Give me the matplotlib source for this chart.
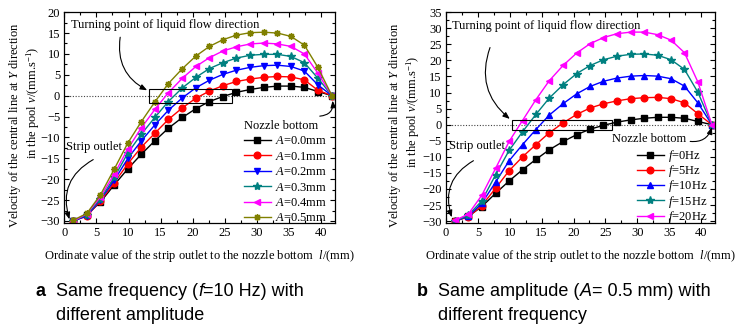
import numpy as np
import matplotlib
matplotlib.use("Agg")
import matplotlib.pyplot as plt
from matplotlib.patches import Rectangle

plt.rcParams['font.family'] = 'Liberation Serif'
plt.rcParams['font.size'] = 9
plt.rcParams['mathtext.fontset'] = 'custom'
plt.rcParams['mathtext.rm'] = 'Liberation Serif'
plt.rcParams['mathtext.it'] = 'Liberation Serif:italic'

#---------------------------------------------------- data
pos_l = [1.4, 3.5, 5.6, 7.8, 9.9, 12.0, 14.1, 16.2, 18.4, 20.5,
         22.6, 24.7, 26.8, 29.0, 31.1, 33.2, 35.3, 37.4, 39.5, 41.7]

# panel a : f = 10 Hz, different amplitude
amp_labels = ["$A$=0.0mm", "$A$=0.1mm", "$A$=0.2mm", "$A$=0.3mm", "$A$=0.4mm", "$A$=0.5mm"]
v_a00 = [-30.0, -28.5, -25.5, -21.3, -17.5, -14.0, -10.8, -7.8, -5.2, -3.1,
         -1.4, -0.2, 0.8, 1.5, 2.0, 2.3, 2.3, 2.0, 1.0, 0.0]
v_a01 = [-30.0, -28.8, -25.3, -20.8, -16.3, -12.3, -9.0, -5.7, -2.9, -0.6,
         1.1, 2.4, 3.4, 4.0, 4.4, 4.6, 4.5, 3.8, 1.3, 0.0]
v_a02 = [-30.0, -28.8, -25.0, -20.2, -15.0, -10.8, -7.0, -3.5, -0.5, 1.9,
         3.7, 5.1, 6.1, 6.8, 7.2, 7.3, 7.0, 5.9, 2.6, 0.0]
v_a03 = [-30.0, -28.5, -24.8, -19.5, -13.7, -9.2, -5.2, -1.4, 1.9, 4.4,
         6.5, 7.9, 9.0, 9.7, 9.9, 9.9, 9.4, 7.9, 4.2, 0.0]
v_a04 = [-30.0, -28.3, -24.3, -18.7, -12.7, -7.7, -3.3, 0.7, 4.2, 7.0,
         9.1, 10.7, 11.7, 12.4, 12.6, 12.4, 11.8, 10.0, 5.4, 0.0]
v_a05 = [-29.8, -28.2, -23.8, -17.5, -11.3, -6.2, -1.5, 2.9, 6.5, 9.5,
         11.8, 13.4, 14.5, 15.1, 15.2, 15.0, 14.2, 12.1, 6.8, 0.0]

# panel b : A = 0.5 mm, different frequency
freq_labels = ["$f$=0Hz", "$f$=5Hz", "$f$=10Hz", "$f$=15Hz", "$f$=20Hz"]
v_f00 = v_a00
v_f05 = [-30.0, -28.7, -25.2, -19.7, -14.3, -10.0, -6.2, -2.5, 0.6, 3.2,
         5.2, 6.5, 7.4, 8.1, 8.4, 8.5, 8.1, 6.8, 3.4, 0.0]
v_f10 = [-30.0, -28.5, -24.5, -17.8, -11.2, -6.2, -1.5, 3.0, 6.6, 9.6,
         11.9, 13.5, 14.5, 15.1, 15.3, 15.1, 14.3, 12.0, 6.8, 0.0]
v_f15 = [-30.0, -28.2, -23.7, -15.5, -8.0, -2.2, 3.2, 8.3, 12.5, 15.9,
         18.4, 20.2, 21.3, 21.9, 22.0, 21.6, 20.2, 17.2, 10.1, 0.0]
v_f20 = [-29.8, -27.8, -22.0, -13.5, -5.2, 1.3, 7.8, 13.7, 18.5, 22.3,
         25.2, 27.1, 28.3, 28.8, 28.8, 28.0, 26.3, 22.4, 13.3, 0.0]

#---------------------------------------------------- styles
col_a = ["black", "#ff0000", "#0000ff", "#008080", "#ff00ff", "#808000"]
mk_a = ["s", "o", "v", "*", "<", (8, 2, 0)]
col_b = ["black", "#ff0000", "#0000ff", "#008080", "#ff00ff"]
mk_b = ["s", "o", "^", "*", "<"]

xlab = "Ordinate value of the strip outlet to the nozzle bottom  $l$/(mm)"
ylab1 = "Velocity of the central line at $Y$ direction"
ylab2 = "in the pool $v$/(mm.s$^{-1}$)"
FS = 9


def frame(ax, ymin, ymax, x1, x2, y2):
  ax.set_xlim(0, 42.2)
  ax.set_ylim(ymin, ymax)
  ax.set_xticks(np.arange(0, 41, 5))
  ax.set_yticks(np.arange(-30, ymax + 0.1, 5))
  ax.set_xticks(np.arange(2.5, 42, 5), minor=True)
  ax.set_yticks(np.arange(-27.5, ymax, 5), minor=True)
  ax.tick_params(which='both', direction='in', top=True, right=True, labelsize=FS, width=0.8, pad=3)
  ax.tick_params(which='major', length=3.5)
  ax.tick_params(which='minor', length=2)
  for s in ax.spines.values():
    s.set_linewidth(0.9)
  ax.axhline(0, color="#444444", lw=0.8, ls=(0, (1, 1.5)), zorder=1)
  ax.set_xlabel(xlab, fontsize=FS, labelpad=6)
  # two-line y label, each line placed on its own
  ax.text(x1, 0.465, ylab1, transform=ax.transAxes, rotation=90, ha='right', va='center', fontsize=FS)
  ax.text(x2, y2, ylab2, transform=ax.transAxes, rotation=90, ha='right', va='center', fontsize=FS)


def arrow(ax, start, end, rad):
  ax.annotate("", xy=end, xytext=start,
              arrowprops=dict(arrowstyle="-|>,head_length=0.45,head_width=0.18",
                              connectionstyle="arc3,rad=%g" % rad, color="black", lw=0.8,
                              shrinkA=0, shrinkB=0))


fig = plt.figure(figsize=(7.44, 3.29), dpi=100)

# ---------------- panel a
ax = fig.add_axes([0.0865, 0.322, 0.364, 0.641])
frame(ax, -30.5, 20, -0.153, -0.082, 0.57)
for v, c, m, lab in zip([v_a00, v_a01, v_a02, v_a03, v_a04, v_a05], col_a, mk_a, amp_labels):
  ax.plot(pos_l, v, color=c, marker=m, ms=4.8 if m != "*" else 6, lw=1, label=lab)
ax.add_patch(Rectangle((13.2, -1.7), 13.0, 3.2, fill=False, ec="black", lw=0.8, zorder=5))
ax.text(1.1, 17.0, "Turning point of liquid flow direction", fontsize=FS, va='center')
arrow(ax, (8.7, 14.0), (12.9, 1.3), 0.35)
ax.text(0.3, -12.3, "Strip outlet", fontsize=FS, va='center')
arrow(ax, (4.5, -15.3), (0.8, -29.6), 0.4)
arrow(ax, (39.8, -4.9), (41.8, -1.2), 0.5)
leg = ax.legend(loc='lower right', bbox_to_anchor=(0.975, -0.012), frameon=False, fontsize=FS,
                title="Nozzle bottom", title_fontsize=FS, handlelength=2.2, handletextpad=0.3,
                labelspacing=0.27, borderpad=0.1, borderaxespad=0)
leg._legend_box.align = "left"

# ---------------- panel b
ax = fig.add_axes([0.5995, 0.322, 0.3616, 0.641])
frame(ax, -30.6, 35, -0.16, -0.089, 0.53)
for v, c, m, lab in zip([v_f00, v_f05, v_f10, v_f15, v_f20], col_b, mk_b, freq_labels):
  ax.plot(pos_l, v, color=c, marker=m, ms=4.8 if m != "*" else 6, lw=1, label=lab)
ax.add_patch(Rectangle((10.3, -1.6), 15.7, 2.95, fill=False, ec="black", lw=0.8, zorder=5))
ax.text(0.95, 30.8, "Turning point of liquid flow direction", fontsize=FS, va='center')
arrow(ax, (6.9, 24.0), (10.0, 1.8), 0.35)
ax.text(0.5, -6.7, "Strip outlet", fontsize=FS, va='center')
arrow(ax, (4.3, -11.2), (0.9, -28.8), 0.4)
ax.text(26.0, -4.5, "Nozzle bottom", fontsize=FS, va='center')
arrow(ax, (38.3, -5.2), (41.7, -0.8), 0.4)
ax.legend(loc='lower right', bbox_to_anchor=(0.975, -0.015), frameon=False, fontsize=FS,
          handlelength=2.2, handletextpad=0.3, labelspacing=-0.06, borderpad=0.1, borderaxespad=0)

# ---------------- captions
rend = fig.canvas.get_renderer()


def caption(x, y, parts):
  for s, style, weight in parts:
    t = fig.text(x / 744.0, 1 - y / 329.0, s, fontsize=13, family='Liberation Sans',
                 style=style, weight=weight, va='baseline')
    x += t.get_window_extent(renderer=rend).width


caption(35, 296, [("a", "normal", "bold")])
caption(56, 296, [("Same frequency (", "normal", "normal"), ("f", "italic", "normal"),
                  ("=10 Hz) with", "normal", "normal")])
caption(56, 320, [("different amplitude", "normal", "normal")])
caption(417, 296, [("b", "normal", "bold")])
caption(438, 296, [("Same amplitude (", "normal", "normal"), ("A", "italic", "normal"),
                   ("= 0.5 mm) with", "normal", "normal")])
caption(438, 320, [("different frequency", "normal", "normal")])

plt.savefig("out.png", dpi=100)
plt.close()
